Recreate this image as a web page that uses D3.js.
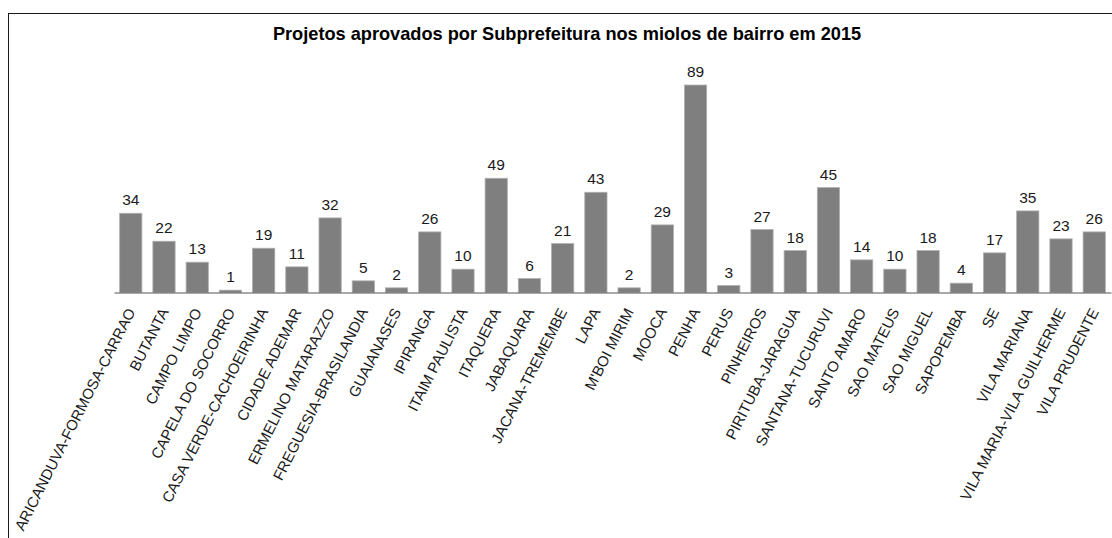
<!DOCTYPE html>
<html>
<head>
<meta charset="utf-8">
<script src="https://cdn.jsdelivr.net/npm/d3@7"></script>
<style>
  html, body { margin: 0; padding: 0; background: #fff; }
  svg { display: block; font-family: "Liberation Sans", Arial, sans-serif; }
</style>
</head>
<body>
<svg id="chart" width="1112" height="538"></svg>
<script>
const title = "Projetos aprovados por Subprefeitura nos miolos de bairro em 2015";
const categories = [
  "ARICANDUVA-FORMOSA-CARRAO", "BUTANTA", "CAMPO LIMPO", "CAPELA DO SOCORRO",
  "CASA VERDE-CACHOEIRINHA", "CIDADE ADEMAR", "ERMELINO MATARAZZO",
  "FREGUESIA-BRASILANDIA", "GUAIANASES", "IPIRANGA", "ITAIM PAULISTA",
  "ITAQUERA", "JABAQUARA", "JACANA-TREMEMBE", "LAPA", "M'BOI MIRIM", "MOOCA",
  "PENHA", "PERUS", "PINHEIROS", "PIRITUBA-JARAGUA", "SANTANA-TUCURUVI",
  "SANTO AMARO", "SAO MATEUS", "SAO MIGUEL", "SAPOPEMBA", "SE",
  "VILA MARIANA", "VILA MARIA-VILA GUILHERME", "VILA PRUDENTE"
];
const values = [34, 22, 13, 1, 19, 11, 32, 5, 2, 26, 10, 49, 6, 21, 43, 2, 29,
                89, 3, 27, 18, 45, 14, 10, 18, 4, 17, 35, 23, 26];

const data = categories.map((c, i) => ({ name: c, value: values[i] }));
const svg = d3.select("#chart");

// outer frame (extends beyond the visible area on right and bottom)
svg.append("rect")
  .attr("x", 8.5).attr("y", 13.5)
  .attr("width", 1200).attr("height", 700)
  .attr("fill", "none").attr("stroke", "#1a1a1a").attr("stroke-width", 1);

const axisY = 292.5;
const x = d3.scaleBand().domain(categories).range([114, 1111])
  .paddingInner(0.33).paddingOuter(0.17);
const y = d3.scaleLinear().domain([0, 100]).range([axisY, axisY - 233.1]);

svg.append("text")
  .attr("x", 567).attr("y", 40)
  .attr("text-anchor", "middle")
  .attr("font-size", 18.2).attr("font-weight", "bold").attr("fill", "#000")
  .text(title);

svg.append("g").selectAll("rect").data(data).join("rect")
  .attr("x", d => x(d.name))
  .attr("y", d => y(d.value))
  .attr("width", x.bandwidth())
  .attr("height", d => y(0) - y(d.value))
  .attr("fill", "#7f7f7f")
  .attr("stroke", "#b0b0b0").attr("stroke-width", 0.8);

svg.append("g").selectAll("text").data(data).join("text")
  .attr("x", d => x(d.name) + x.bandwidth() / 2)
  .attr("y", d => y(d.value) - 8)
  .attr("text-anchor", "middle")
  .attr("font-size", 15.5).attr("fill", "#1a1a1a")
  .text(d => d.value);

const axis = d3.axisBottom(x).tickSize(0).tickPadding(0);
const gx = svg.append("g").attr("transform", `translate(0,${axisY})`).call(axis);
gx.select(".domain").attr("stroke", "#555").attr("stroke-width", 1.2);
gx.selectAll(".tick text")
  .attr("font-family", "Liberation Sans, Arial, sans-serif")
  .attr("font-size", 15).attr("fill", "#1a1a1a")
  .attr("text-anchor", "end")
  .attr("dy", 0).attr("y", 0)
  .attr("transform", "translate(5,19) rotate(-63)");
</script>
</body>
</html>
